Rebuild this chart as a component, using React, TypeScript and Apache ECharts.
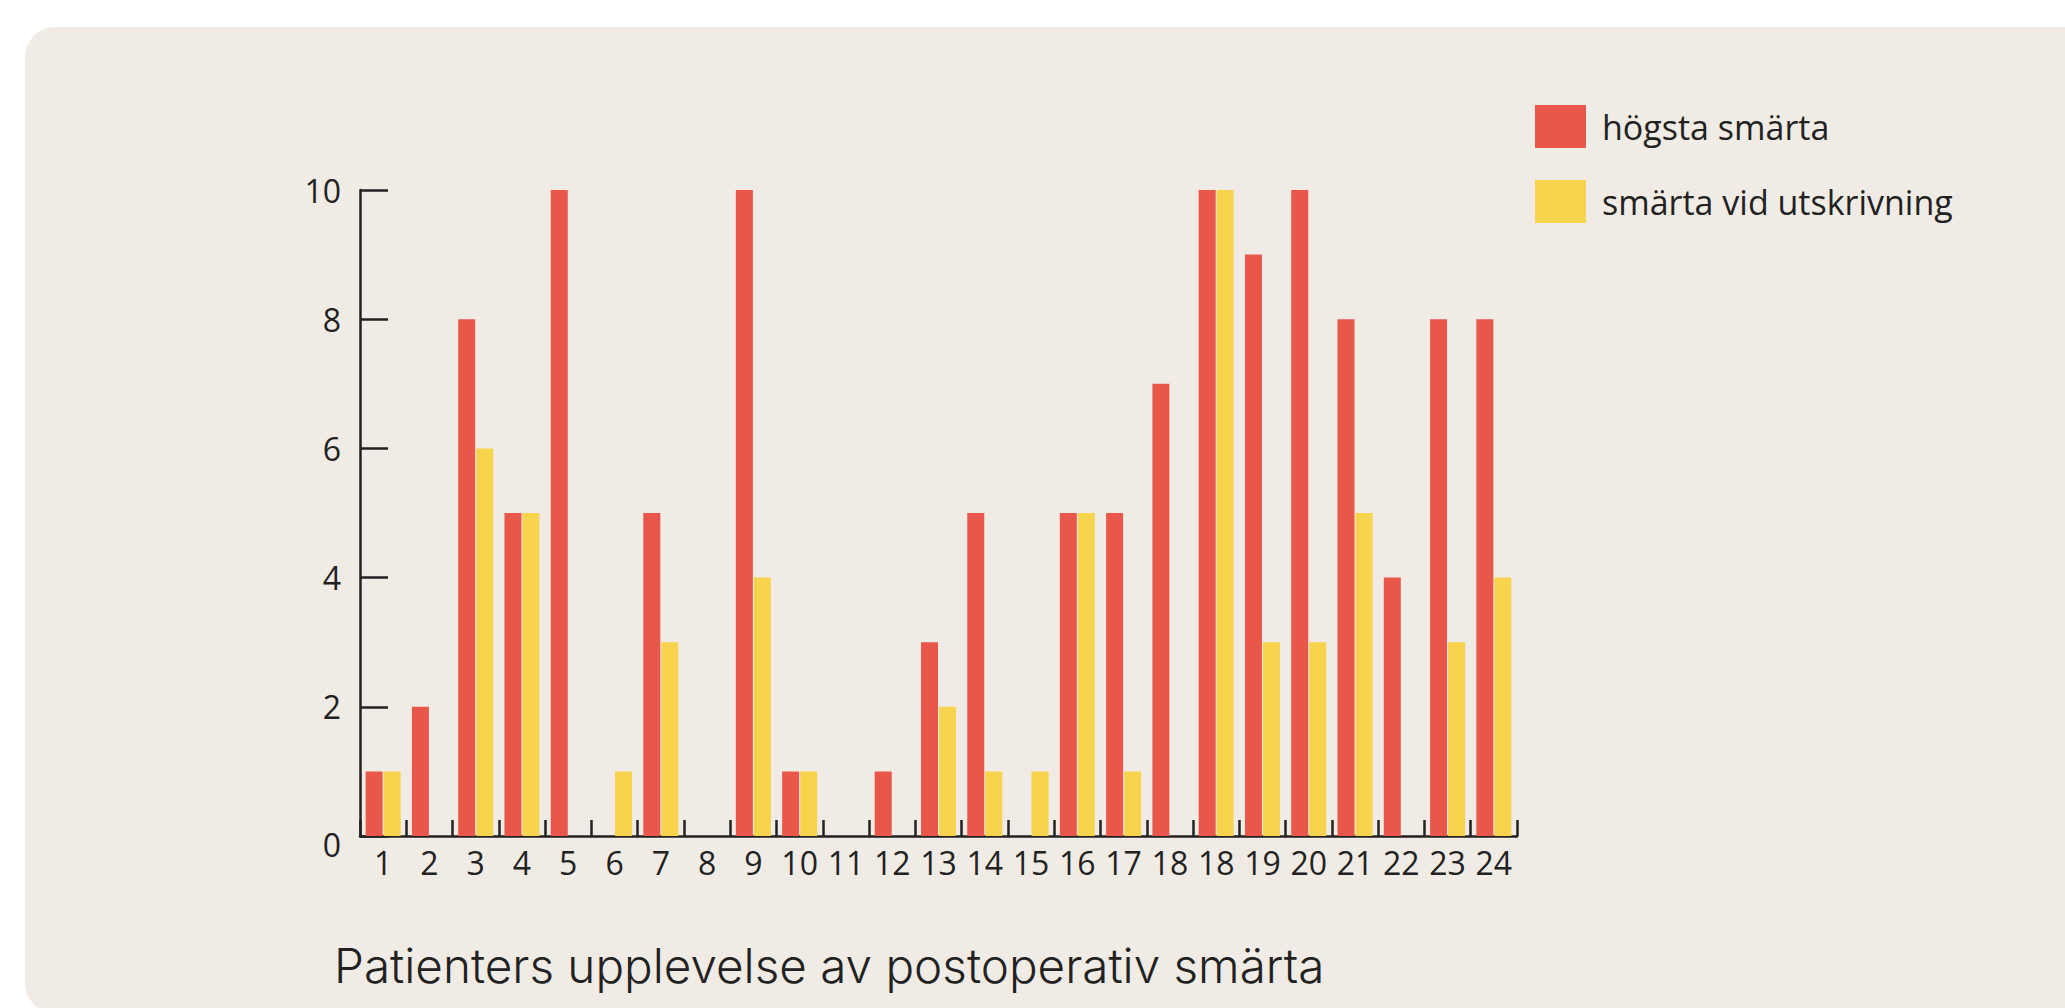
import React, { useEffect, useRef } from "react";
import * as echarts from "echarts";

const categories = ["1","2","3","4","5","6","7","8","9","10","11","12","13","14","15","16","17","18","18","19","20","21","22","23","24"];
const highestPain = [1,2,8,5,10,0,5,0,10,1,0,1,3,5,0,5,5,7,10,9,10,8,4,8,8];
const dischargePain = [1,0,6,5,0,1,3,0,4,1,0,0,2,1,1,5,1,0,10,3,3,5,0,3,4];
const seriesNames = ["högsta smärta", "smärta vid utskrivning"];
const yTicks = { min: 0, max: 10, interval: 2 };
const titleText = "Patienters upplevelse av postoperativ smärta";

const RED = "#E9564A";
const YELLOW = "#F7D34E";
const PANEL = "#F0ECE5";
const INK = "#222222";
const AXIS_FONT = "'Open Sans', 'Noto Sans', sans-serif";

export default function App() {
  const ref = useRef<HTMLDivElement>(null);
  useEffect(() => {
    if (!ref.current) return;
    const chart = echarts.init(ref.current, undefined, { renderer: "svg" });
    chart.setOption({
      animation: false,
      backgroundColor: "#ffffff",
      graphic: [
        {
          type: "rect",
          z: -10,
          silent: true,
          shape: { x: 25, y: 27, width: 2100, height: 986, r: 30 },
          style: { fill: PANEL },
        },
        {
          type: "text",
          z: 10,
          x: 334,
          y: 965,
          style: {
            text: titleText,
            fill: INK,
            font: "300 47.6px Inter, Lato, 'Open Sans', sans-serif",
            verticalAlign: "middle",
            align: "left",
          },
        },
      ],
      legend: {
        orient: "vertical",
        left: 1535,
        top: 105,
        padding: 0,
        itemWidth: 51,
        itemHeight: 43,
        itemGap: 32,
        icon: "rect",
        selectedMode: false,
        textStyle: {
          fontFamily: AXIS_FONT,
          fontSize: 34,
          color: INK,
          padding: [12, 0, 0, 11],
        },
        data: seriesNames,
      },
      grid: { left: 360, top: 190, width: 1157, height: 646, containLabel: false },
      xAxis: {
        type: "category",
        data: categories,
        boundaryGap: true,
        axisLine: { show: true, lineStyle: { color: INK, width: 2.5 } },
        axisTick: { show: true, inside: true, length: 16, lineStyle: { color: INK, width: 2.5 } },
        axisLabel: {
          interval: 0,
          fontFamily: AXIS_FONT,
          fontSize: 32,
          color: INK,
          margin: 10,
          formatter: (_v: string, i: number) => categories[i],
        },
        splitLine: { show: false },
      },
      yAxis: {
        type: "value",
        min: yTicks.min,
        max: yTicks.max,
        interval: yTicks.interval,
        axisLine: { show: true, lineStyle: { color: INK, width: 2.5 } },
        axisTick: { show: true, inside: true, length: 28, lineStyle: { color: INK, width: 2.5 } },
        axisLabel: {
          fontFamily: AXIS_FONT,
          fontSize: 32,
          color: INK,
          margin: 19,
          formatter: (v: number) => (v === 0 ? "{z|0}" : String(v)),
          rich: {
            z: { fontFamily: AXIS_FONT, fontSize: 32, color: INK, padding: [16, 0, 0, 0] },
          },
        },
        splitLine: { show: false },
      },
      series: [
        {
          name: seriesNames[0],
          type: "bar",
          data: highestPain,
          barWidth: 17,
          barGap: "6%",
          itemStyle: { color: RED },
        },
        {
          name: seriesNames[1],
          type: "bar",
          data: dischargePain,
          barWidth: 17,
          barGap: "6%",
          itemStyle: { color: YELLOW },
        },
      ],
    });
    return () => chart.dispose();
  }, []);
  return (
    <div
      ref={ref}
      style={{ position: "fixed", left: 0, top: 0, width: 2065, height: 1008 }}
    />
  );
}
